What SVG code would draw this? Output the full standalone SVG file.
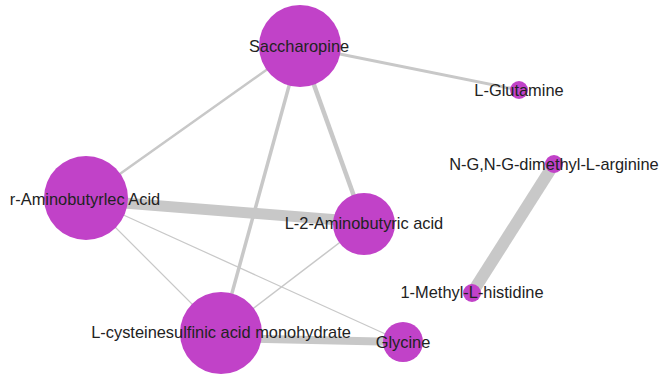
<svg xmlns="http://www.w3.org/2000/svg" width="663" height="385" viewBox="0 0 663 385">
<style>
.e{stroke:#c8c8c8;stroke-linecap:butt;fill:none}
.n{fill:#c142c8}
.t{font-family:"Liberation Sans",Arial,sans-serif;font-size:16.4px;fill:#222;text-anchor:middle}
</style>
<rect width="663" height="385" fill="#fff"/>
<g id="connectors">
<line class="e" x1="300" y1="46" x2="519" y2="90" stroke-width="3"/>
<line class="e" x1="300" y1="46" x2="86" y2="198" stroke-width="2.5"/>
<line class="e" x1="300" y1="46" x2="364" y2="224" stroke-width="4.5"/>
<line class="e" x1="300" y1="46" x2="221" y2="333" stroke-width="3.5"/>
<line class="e" x1="86" y1="200" x2="364" y2="222" stroke-width="11"/>
<line class="e" x1="86" y1="198" x2="221" y2="333" stroke-width="1.2"/>
<line class="e" x1="86" y1="198" x2="403" y2="342" stroke-width="1.2"/>
<line class="e" x1="364" y1="224" x2="221" y2="333" stroke-width="1.5"/>
<line class="e" x1="221" y1="338" x2="403" y2="342" stroke-width="8"/>
<line class="e" x1="554" y1="164" x2="472" y2="293" stroke-width="12"/>
</g>
<g id="n-saccharopine"><circle class="n" cx="300" cy="46" r="41"/><text class="t" x="299" y="52">Saccharopine</text></g>
<g id="n-glutamine"><circle class="n" cx="519" cy="90" r="9"/><text class="t" x="519" y="96">L-Glutamine</text></g>
<g id="n-ngng"><circle class="n" cx="554" cy="164" r="9"/><text class="t" x="554" y="170">N-G,N-G-dimethyl-L-arginine</text></g>
<g id="n-raminobutyrlec"><circle class="n" cx="86" cy="198" r="42"/><text class="t" x="85" y="205">r-Aminobutyrlec Acid</text></g>
<g id="n-l2aminobutyric"><circle class="n" cx="364" cy="224" r="31"/><text class="t" x="364" y="229">L-2-Aminobutyric acid</text></g>
<g id="n-methylhistidine"><circle class="n" cx="472" cy="293" r="9"/><text class="t" x="472" y="298">1-Methyl-L-histidine</text></g>
<g id="n-lcysteine"><circle class="n" cx="221" cy="333" r="41"/><text class="t" x="221" y="338">L-cysteinesulfinic acid monohydrate</text></g>
<g id="n-glycine"><circle class="n" cx="403" cy="342" r="20"/><text class="t" x="403" y="348">Glycine</text></g>
</svg>
